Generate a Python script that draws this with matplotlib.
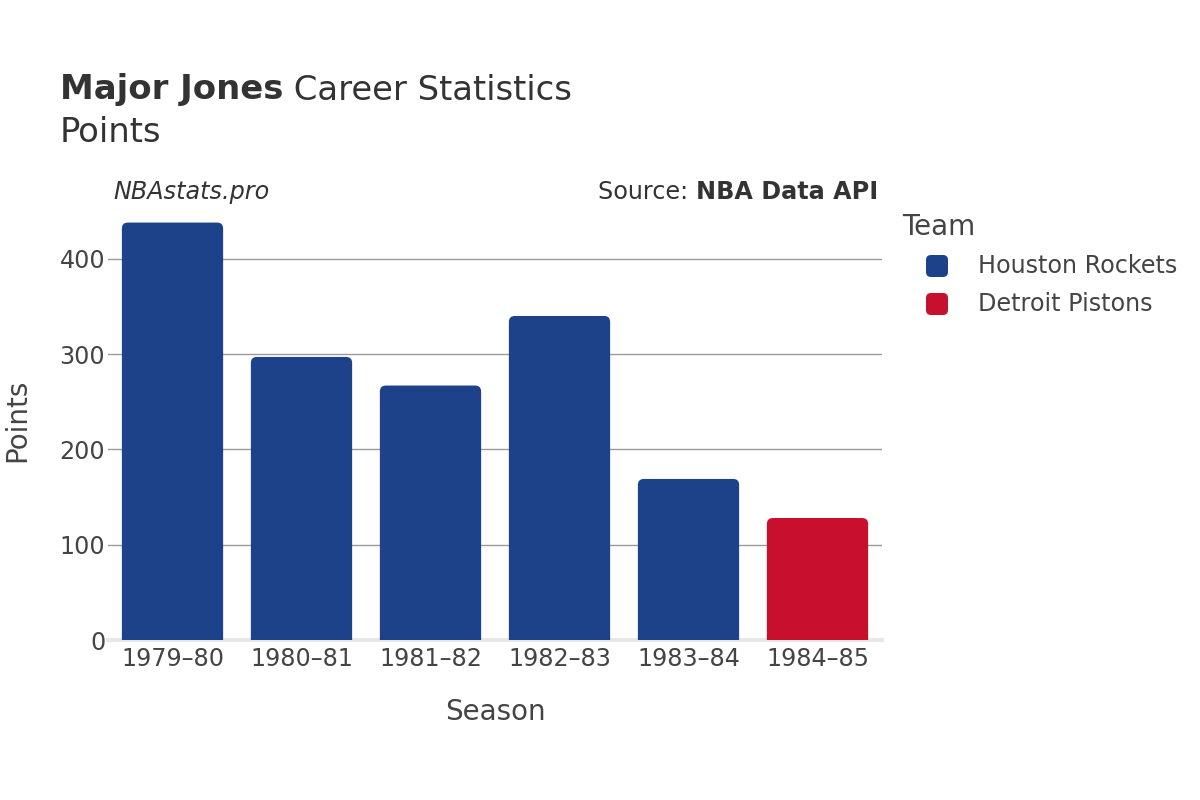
import matplotlib
matplotlib.use("Agg")
import matplotlib.pyplot as plt
from matplotlib.patches import FancyBboxPatch
from matplotlib.transforms import IdentityTransform

seasons = ["1979–80", "1980–81", "1981–82", "1982–83", "1983–84", "1984–85"]
points = [438, 297, 267, 340, 169, 128]
teams = ["Houston Rockets", "Houston Rockets", "Houston Rockets", "Houston Rockets",
         "Houston Rockets", "Detroit Pistons"]
team_order = ["Houston Rockets", "Detroit Pistons"]
team_colors = {"Houston Rockets": "#1D428A", "Detroit Pistons": "#C8102E"}
yticks = [0, 100, 200, 300, 400]

plt.rcParams['font.family'] = ['DejaVu Sans']
TXT = "#444444"

fig = plt.figure(figsize=(12, 8), dpi=100)
AX_L, AX_R = 108, 882
ax = fig.add_axes([AX_L/1200, 160/800, (AX_R-AX_L)/1200, 438.4/800])
ymax = 460
ax.set_xlim(-0.5, len(seasons) - 0.5)
ax.set_ylim(0, ymax)

px_x = (AX_R - AX_L) / len(seasons)
px_y = 438.4 / ymax
r_px = 6
width = 0.785
for i, (v, t) in enumerate(zip(points, teams)):
    r = r_px / px_x
    aspect = px_x / px_y
    p = FancyBboxPatch((i - width/2, -10), width, v + 10,
                       boxstyle=f"round,pad=0,rounding_size={r}",
                       mutation_aspect=aspect,
                       facecolor=team_colors[t], edgecolor="none", zorder=3)
    ax.add_patch(p)

for y in yticks[1:]:
    ax.axhline(y, color="#9a9a9a", lw=1, zorder=1)
ax.axhline(0, color="#e8e8e8", lw=3, zorder=2, clip_on=False)

ax.set_xticks(range(len(seasons)))
ax.set_xticklabels(seasons, fontsize=17.2, color=TXT)
ax.set_yticks(yticks)
ax.set_yticklabels([str(y) for y in yticks], fontsize=17.2, color=TXT)
ax.tick_params(axis="x", length=0, pad=5)
ax.tick_params(axis="y", length=0, pad=2)
for s in ax.spines.values():
    s.set_visible(False)

fig.text(495/1200, 1 - 712/800, "Season", ha="center", va="center", fontsize=20, color=TXT)
fig.text(17/1200, 1 - 420/800, "Points", ha="center", va="center", rotation=90,
         fontsize=20, color=TXT)

# Title
TFS = 24.4
t1 = fig.text(60/1200, 1 - 90/800, "Major Jones", ha="left", va="center",
              fontsize=TFS, fontweight="bold", color="#333333")
fig.canvas.draw()
bb = t1.get_window_extent()
fig.text(bb.x1/1200, 1 - 90/800, " Career Statistics", ha="left", va="center",
         fontsize=TFS, color="#333333")
fig.text(60/1200, 1 - 133/800, "Points", ha="left", va="center", fontsize=TFS, color="#333333")

SFS = 17.2
fig.text(113/1200, 1 - 192/800, "NBAstats.pro", ha="left", va="center", fontsize=SFS,
         style="italic", color="#333333")
s2 = fig.text(878/1200, 1 - 192/800, "NBA Data API", ha="right", va="center", fontsize=SFS,
              fontweight="bold", color="#333333")
fig.canvas.draw()
bb2 = s2.get_window_extent()
fig.text(bb2.x0/1200, 1 - 192/800, "Source: ", ha="right", va="center", fontsize=SFS,
         color="#333333")

# Legend
fig.text(902/1200, 1 - 227/800, "Team", ha="left", va="center", fontsize=20, color=TXT)
rows = [266, 304]
for name, yrow in zip(team_order, rows):
    sz = 22
    cx, cy = 937, 800 - yrow
    p = FancyBboxPatch((cx - sz/2, cy - sz/2), sz, sz,
                       boxstyle="round,pad=0,rounding_size=5",
                       facecolor=team_colors[name], edgecolor="none",
                       transform=IdentityTransform())
    fig.add_artist(p)
    fig.text(978/1200, 1 - yrow/800, name, ha="left", va="center", fontsize=17.2, color=TXT)

fig.savefig("out.png", dpi=100)
